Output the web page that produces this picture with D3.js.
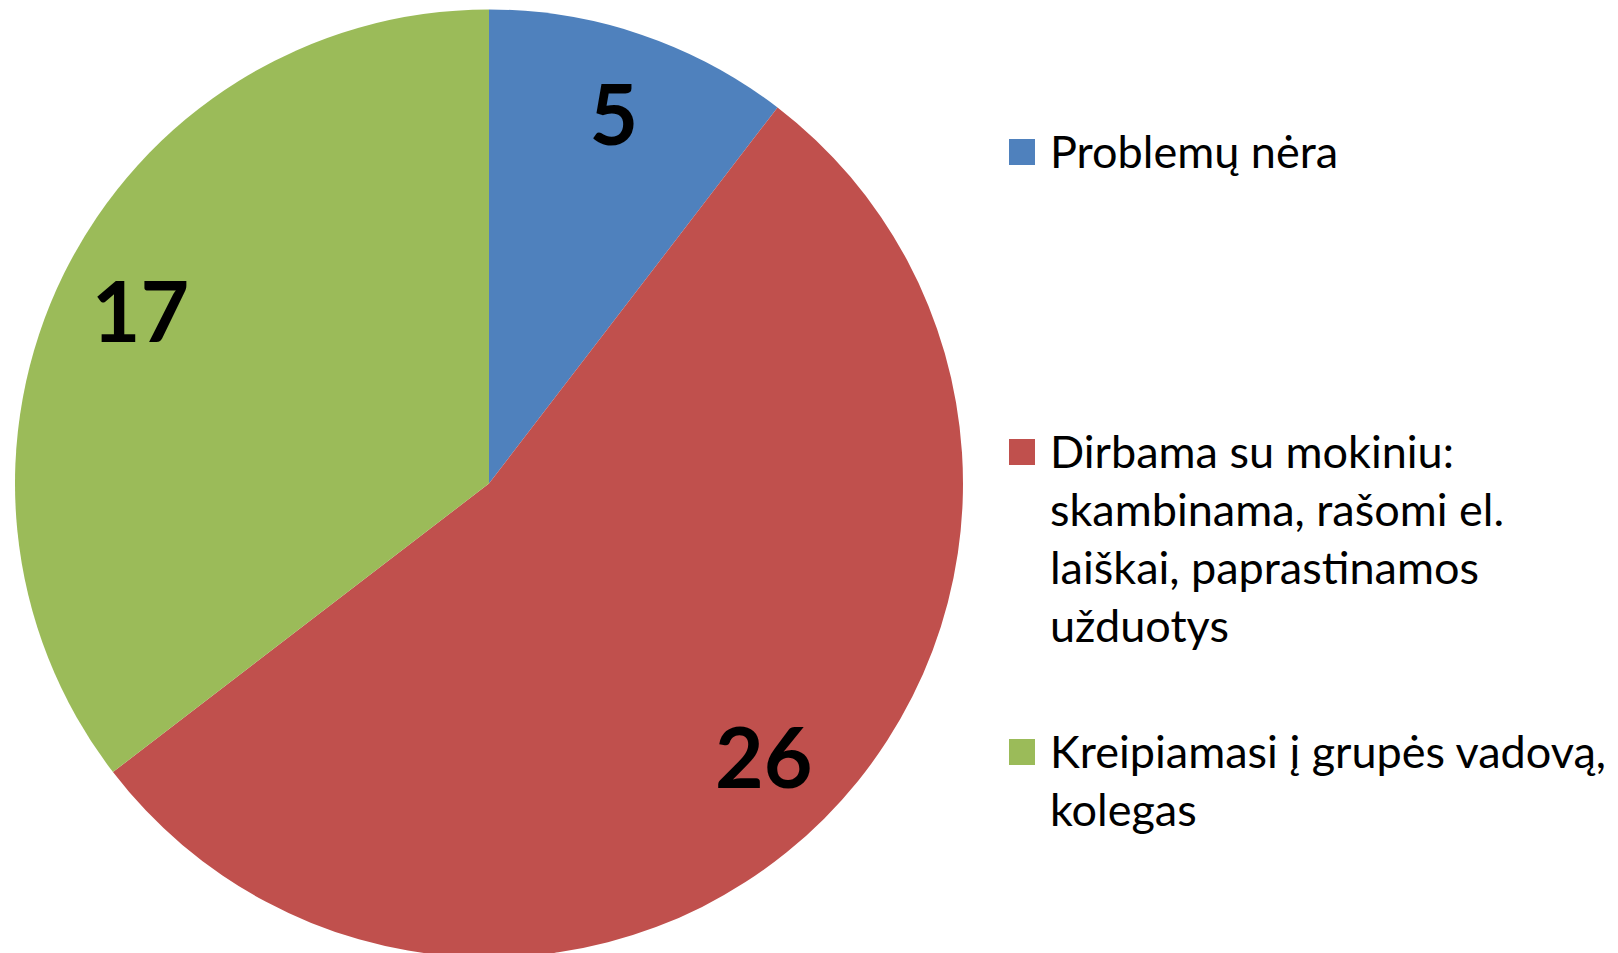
<!DOCTYPE html>
<html>
<head>
<meta charset="utf-8">
<script src="https://cdnjs.cloudflare.com/ajax/libs/d3/7.8.5/d3.min.js"></script>
<style>
  body { margin: 0; background: #fff; }
  svg { display: block; }
  .label { font-family: Lato, "Noto Sans", sans-serif; font-weight: bold; fill: #000; }
  .legend text { font-family: Lato, "Noto Sans", sans-serif; fill: #000; }
</style>
</head>
<body>
<script>
'use strict'
const categories = ["Problemų nėra", "Dirbama su mokiniu: skambinama, rašomi el. laiškai, paprastinamos užduotys", "Kreipiamasi į grupės vadovą, kolegas"];
const values = [5, 26, 17];
const legendLines = [
	["Problemų nėra"],
	["Dirbama su mokiniu:", "skambinama, rašomi el.", "laiškai, paprastinamos", "užduotys"],
	["Kreipiamasi į grupės vadovą,", "kolegas"]
];
const colors = ["#4F81BD", "#C0504D", "#9BBB59"];

const w = 1618;
const h = 953;
const cx = 489;
const cy = 483.5;
const radius = 474;

var svg = d3.select("body")
	.append("svg")
	.attr("width", w)
	.attr("height", h);

var color = d3.scaleOrdinal()
	.domain(categories)
	.range(colors);

var pie = d3.pie()
	.sort(null)
	.value((d) => d);

var arcs = pie(values);

var arc = d3.arc()
	.innerRadius(0)
	.outerRadius(radius);

var labelArc = d3.arc()
	.innerRadius(radius * 0.82)
	.outerRadius(radius * 0.82);

var g = svg.append("g")
	.attr("transform", "translate(" + cx + "," + cy + ")");

g.selectAll("path")
	.data(arcs)
	.enter()
	.append("path")
	.attr("d", arc)
	.attr("fill", (d, i) => color(categories[i]));

g.selectAll("text.label")
	.data(arcs)
	.enter()
	.append("text")
	.attr("class", "label")
	.attr("text-anchor", "middle")
	.attr("x", (d) => labelArc.centroid(d)[0])
	.attr("y", (d) => labelArc.centroid(d)[1] + 30)
	.style("font-size", "84px")
	.text((d) => d.data);

// legend
var legendY = d3.scalePoint()
	.domain(categories)
	.range([139, 739]);

var lineHeight = 58;

var legend = svg.append("g")
	.attr("class", "legend")
	.selectAll("g")
	.data(categories)
	.enter()
	.append("g")
	.attr("transform", (d) => "translate(1009," + legendY(d) + ")");

legend.append("rect")
	.attr("width", 26)
	.attr("height", 26)
	.attr("fill", (d) => color(d));

legend.append("text")
	.attr("x", 41)
	.attr("y", 29)
	.style("font-size", "45px")
	.selectAll("tspan")
	.data((d, i) => legendLines[i])
	.enter()
	.append("tspan")
	.attr("x", 41)
	.attr("dy", (d, i) => i === 0 ? 0 : lineHeight)
	.text((d) => d);
</script>
</body>
</html>
